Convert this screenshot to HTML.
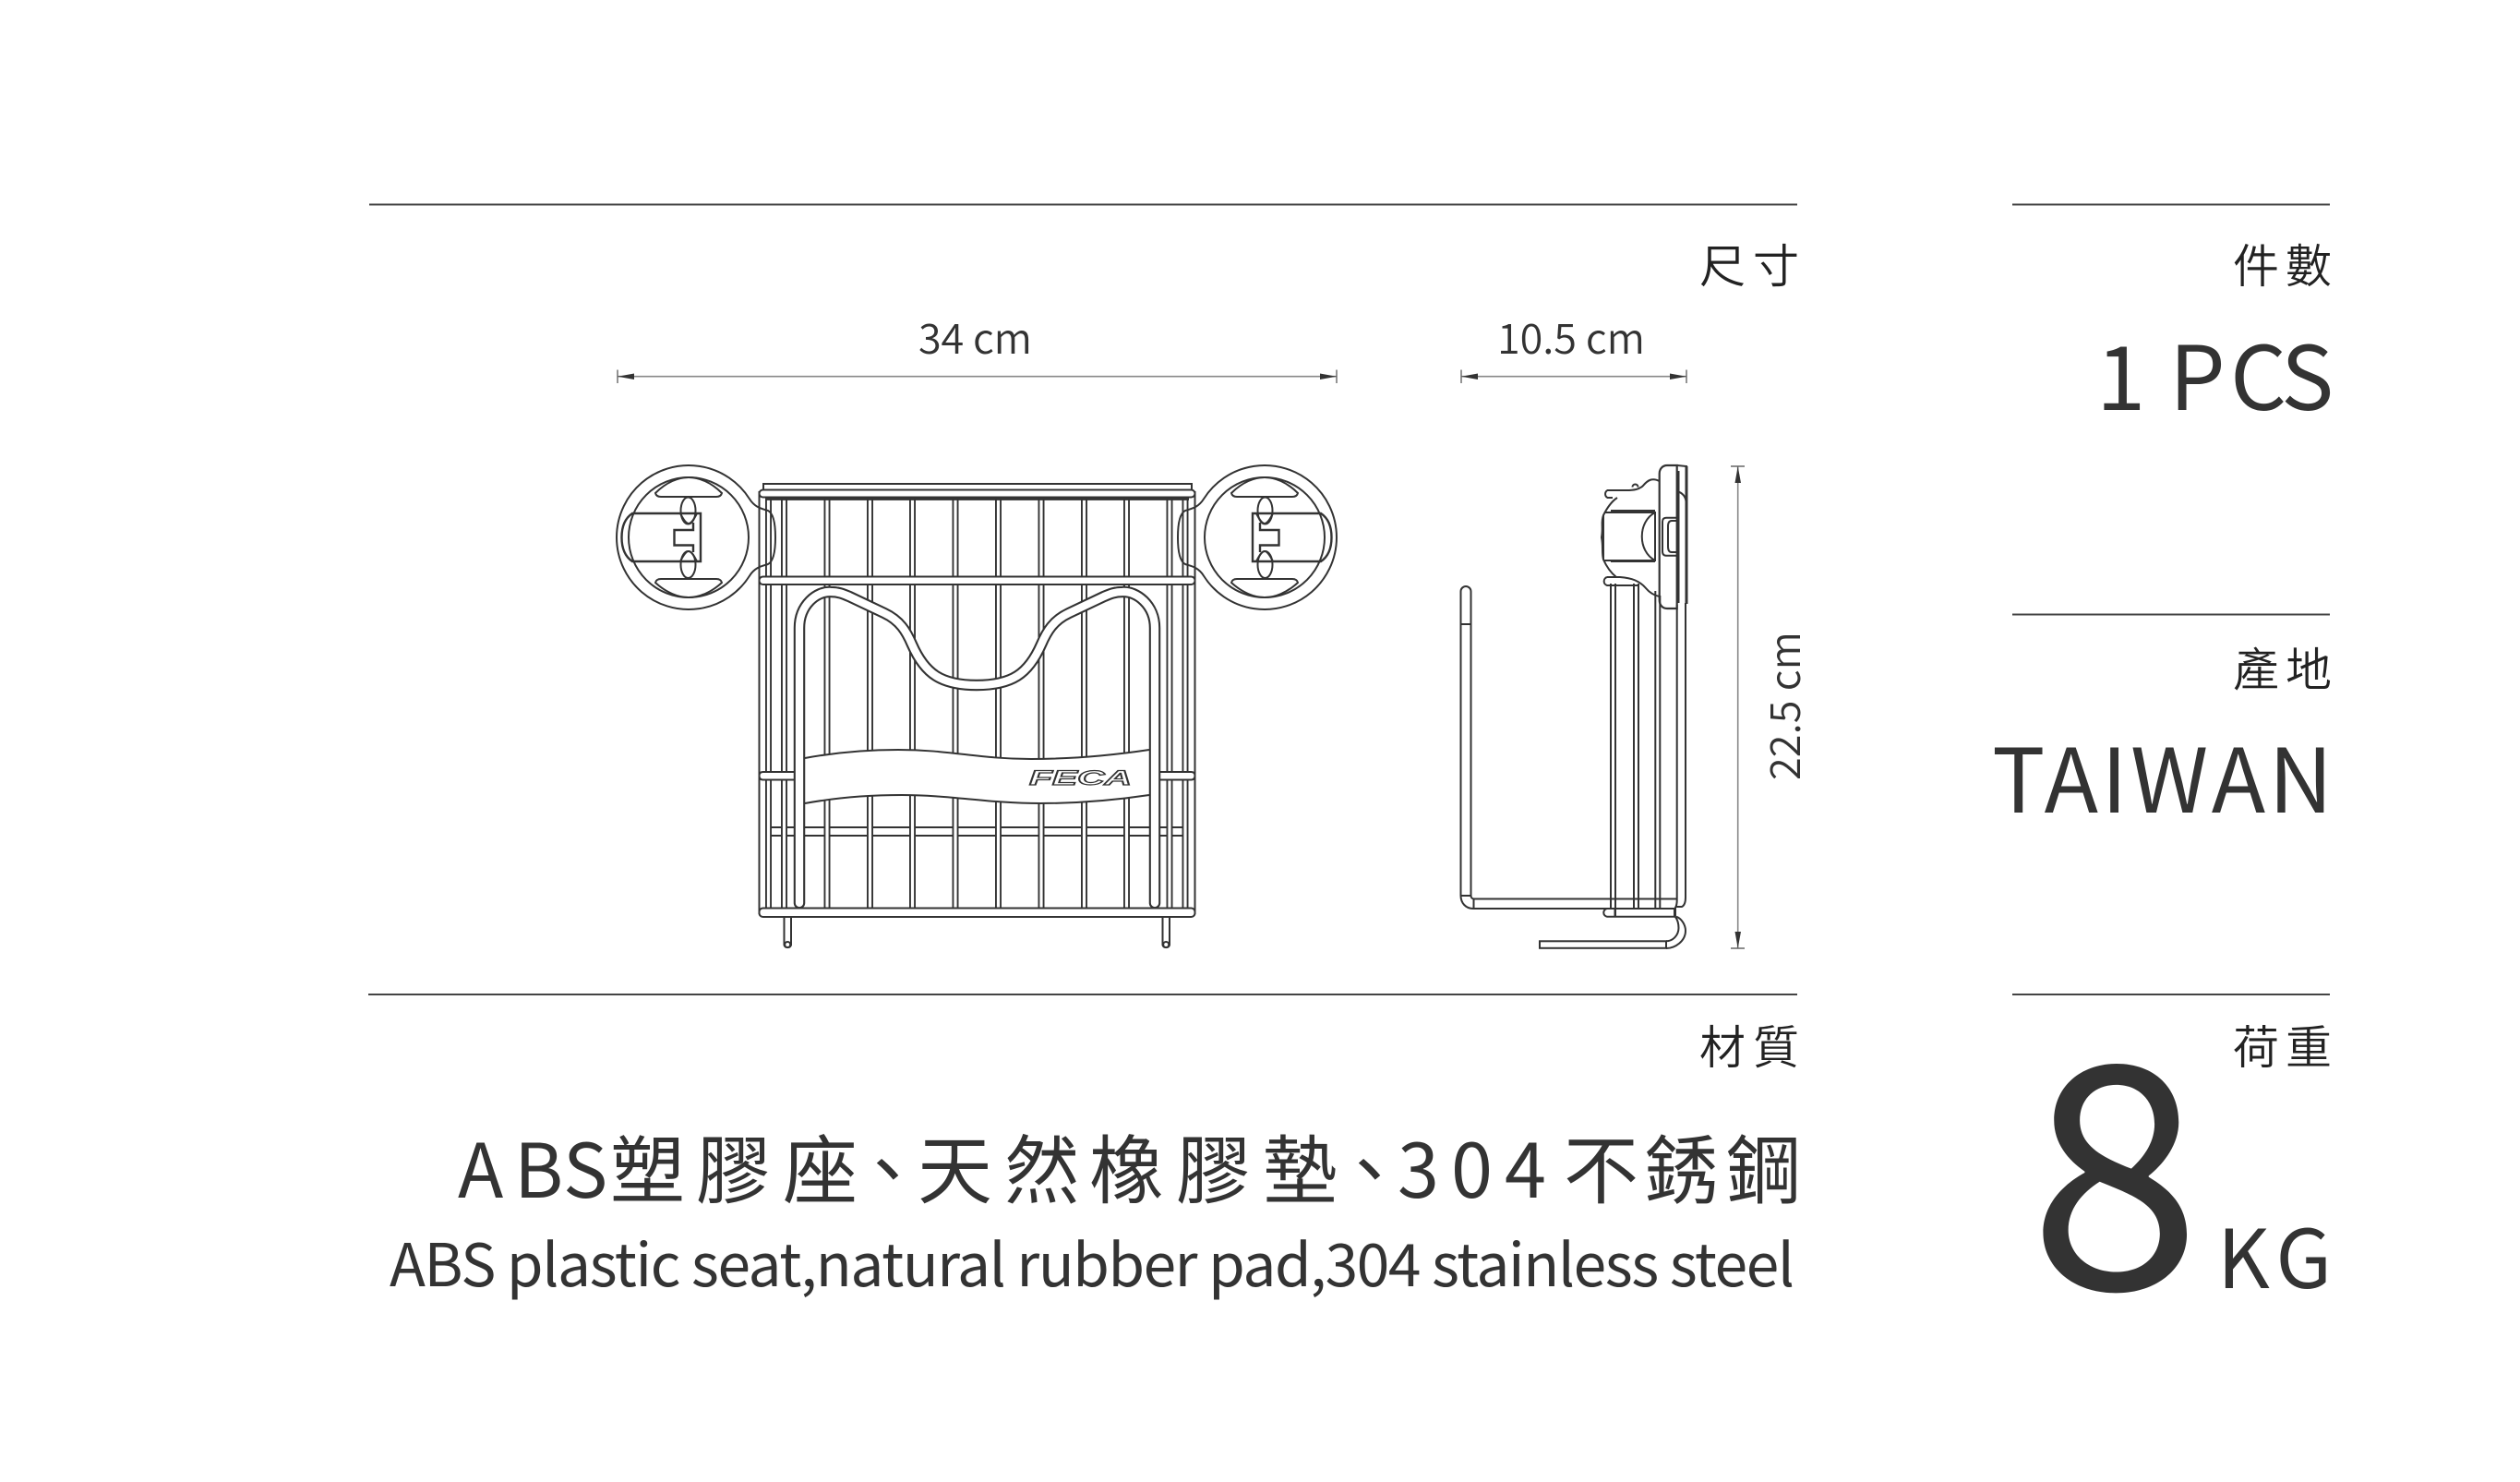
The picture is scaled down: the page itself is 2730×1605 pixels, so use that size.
<!DOCTYPE html>
<html><head><meta charset="utf-8"><style>
html,body{margin:0;padding:0;background:#fff}
svg{display:block}
text{font-family:"Noto Sans CJK TC","Liberation Sans",sans-serif;fill:#333}
.l{font-weight:350;fill:#222}
.m{font-weight:350}
.r{font-weight:400}
</style></head><body>
<svg width="2730" height="1605" viewBox="0 0 2730 1605" xmlns="http://www.w3.org/2000/svg">
<rect width="2730" height="1605" fill="#fff"/>
<g stroke="#444" stroke-width="2" fill="none">
<path d="M400 221.500H1947M399 1077H1947M2180 221.500H2524M2180 665.500H2524M2180 1077H2524"/>
</g>
<text class="l" x="1841" y="306" font-size="50" textLength="108">尺寸</text>
<text class="l" x="2419" y="306" font-size="50" textLength="107">件數</text>
<text class="l" x="2419" y="743" font-size="50" textLength="107">產地</text>
<text class="l" x="2419" y="1152" font-size="50" textLength="107">荷重</text>
<text class="l" x="1841" y="1152" font-size="50" textLength="108">材質</text>
<text class="m" x="995" y="383" font-size="45" textLength="123">34 cm</text>
<text class="m" x="1622" y="383" font-size="45" textLength="160">10.5 cm</text>
<text class="m" transform="translate(1950 845) rotate(-90)" x="0" y="0" font-size="45" textLength="161">22.5 cm</text>
<text class="r" x="496 557 610 661 754 848 921 994 1088 1180 1274 1368 1443 1514 1572 1630 1694 1781 1870" y="1297" font-size="81">ABS塑膠座、天然橡膠墊、304不銹鋼</text>
<text class="r" x="422" y="1393" font-size="64" textLength="1522">ABS plastic seat,natural rubber pad,304 stainless steel</text>
<text class="r" x="2271 2330 2350 2416 2471" y="444" font-size="96">1 PCS</text>
<text class="r" x="2158" y="880" font-size="96" textLength="369">TAIWAN</text>
<text class="r" x="2198" y="1396" font-size="336">8</text>
<text class="r" x="2402" y="1395" font-size="88" textLength="124">KG</text>

<!-- dimensions -->
<g stroke="#888" stroke-width="1.600" fill="none">
<path d="M669 407.700H1448M1583 407.700H1827M1882.700 505V1027"/>
</g>
<g stroke="#666" stroke-width="1.400" fill="none">
<path d="M669 400.500V415M1448 400.500V415M1583 400.500V415M1827 400.500V415M1875 505H1890M1875 1027H1890"/>
</g>
<g fill="#333">
<path d="M669 407.700L687 404.500V411Z M1448 407.700L1430 404.500V411Z M1583 407.700L1601 404.500V411Z M1827 407.700L1809 404.500V411Z M1882.700 505L1879.500 523H1886Z M1882.700 1027L1879.500 1009H1886Z"/>
</g>

<!-- FRONT VIEW -->
<g fill="none" stroke="#333" stroke-width="2">
<path d="M822.500 532V990M1294.500 532V990"/>
<path d="M834 896H1282M834 905H1282"/>
</g>
<g fill="none">
<path stroke="#333" stroke-width="7" d="M832.500 538V984M849.500 538V984M896 538V984M942.500 538V984M988.500 538V984M1035 538V984M1081.500 538V984M1128 538V984M1174.500 538V984M1220.500 538V984M1267 538V984M1284 538V984"/>
<path stroke="#fff" stroke-width="3.200" d="M832.500 538V984M849.500 538V984M896 538V984M942.500 538V984M988.500 538V984M1035 538V984M1081.500 538V984M1128 538V984M1174.500 538V984M1220.500 538V984M1267 538V984M1284 538V984"/>
<path stroke="#333" stroke-width="2.800" d="M829 540.500H1288"/>
</g>
<g fill="#fff" stroke="#333" stroke-width="2">
<rect x="827" y="524" width="464" height="7"/>
<rect x="822.500" y="530.500" width="472" height="8" rx="4"/>
<rect x="822.500" y="624.500" width="472" height="8.500" rx="4"/>
<rect x="822.500" y="983.500" width="472" height="9.500" rx="4"/>
<path d="M862 836H826.500Q822.500 836 822.500 840Q822.500 844.500 826.500 844.500H862Z"/>
<path d="M1255 836H1290.500Q1294.500 836 1294.500 840Q1294.500 844.500 1290.500 844.500H1255Z"/>
<path d="M849.500 993V1023.500A4 4 0 0 0 857 1023.500V993Z"/>
<path d="M1259.500 993V1023.500A4 4 0 0 0 1267 1023.500V993Z"/>
<circle cx="853.200" cy="1023" r="3" />
<circle cx="1263.200" cy="1023" r="3" />
</g>
<path fill="#fff" d="M872 821C905 815 940 812 973 812C1030 812 1060 822 1117 822C1165 822 1205 818 1245 812V861C1205 867 1165 870 1127 870C1070 870 1030 861 977 861C940 861 905 864 872 870Z"/>
<path fill="none" stroke="#333" stroke-width="2" d="M872 821C905 815 940 812 973 812C1030 812 1060 822 1117 822C1165 822 1205 818 1245 812M1245 861C1205 867 1165 870 1127 870C1070 870 1030 861 977 861C940 861 905 864 872 870"/>
<g fill="none" stroke-linecap="round">
<path stroke="#333" stroke-width="12.500" d="M866 978V680C866 655 885 640 900 641C908 641 913 643 920 646L958 664C975 672 982 684 988 698C1002 730 1020 742 1058 742C1096 742 1114 730 1128 698C1134 684 1141 672 1158 664L1196 646C1203 643 1208 641 1216 641C1231 640 1251 655 1251 680V978"/>
<path stroke="#fff" stroke-width="8.300" d="M866 978V680C866 655 885 640 900 641C908 641 913 643 920 646L958 664C975 672 982 684 988 698C1002 730 1020 742 1058 742C1096 742 1114 730 1128 698C1134 684 1141 672 1158 664L1196 646C1203 643 1208 641 1216 641C1231 640 1251 655 1251 680V978"/>
</g>
<text x="1115" y="850" font-size="22" textLength="111" lengthAdjust="spacingAndGlyphs" style="font-family:'Liberation Sans',sans-serif;font-weight:700;font-style:italic;fill:#fff;stroke:#333;stroke-width:1.200">FECA</text>

<!-- left suction -->
<g fill="none" stroke="#333" stroke-width="2">
<path d="M812 540.400A78 78 0 1 0 812 623.600C818 614 826 613 832 611C838 608 840 596 840 582C840 568 838 556 832 553C826 551 818 550 812 540.400Z"/>
<circle cx="746" cy="582" r="65"/>
<path d="M716 538H776Q781 538 782 534C770 522 757 517 746 517C735 517 722 522 710 534Q711 538 716 538Z"/>
<path d="M716 627H776Q781 627 782 631C770 642 757 647 746 647C735 647 722 642 710 631Q711 627 716 627Z"/>
<ellipse cx="745.500" cy="553" rx="8" ry="14.500"/>
<ellipse cx="745.500" cy="611.500" rx="8" ry="14.500"/>
<path d="M737 556C740 562 743 567 746 567C749 567 752 562 755 556M737 608C740 602 743 597 746 597C749 597 752 602 755 608"/>
<path stroke-width="2.400" d="M759 556H685C676 562 673.500 572 673.500 582C673.500 592 676 602 685 608H759ZM751 566V574H730.500V590.500H751V598"/>
</g>
<!-- right suction mirrored -->
<g transform="matrix(-1 0 0 1 2116 0)" fill="none" stroke="#333" stroke-width="2">
<path d="M812 540.400A78 78 0 1 0 812 623.600C818 614 826 613 832 611C838 608 840 596 840 582C840 568 838 556 832 553C826 551 818 550 812 540.400Z"/>
<circle cx="746" cy="582" r="65"/>
<path d="M716 538H776Q781 538 782 534C770 522 757 517 746 517C735 517 722 522 710 534Q711 538 716 538Z"/>
<path d="M716 627H776Q781 627 782 631C770 642 757 647 746 647C735 647 722 642 710 631Q711 627 716 627Z"/>
<ellipse cx="745.500" cy="553" rx="8" ry="14.500"/>
<ellipse cx="745.500" cy="611.500" rx="8" ry="14.500"/>
<path d="M737 556C740 562 743 567 746 567C749 567 752 562 755 556M737 608C740 602 743 597 746 597C749 597 752 602 755 608"/>
<path stroke-width="2.400" d="M759 556H685C676 562 673.500 572 673.500 582C673.500 592 676 602 685 608H759ZM751 566V574H730.500V590.500H751V598"/>
</g>

<!-- SIDE VIEW -->
<g fill="none" stroke="#333" stroke-width="2">
<path d="M1582.500 970V640.500A5.500 5.500 0 0 1 1593.500 640.500V970M1582.500 676H1593.500"/>
<path d="M1582.500 970C1582.500 978 1588 984 1596 984H1745M1593.500 970C1593.500 972 1595 973.500 1597 973.500H1816M1582.500 970H1593.500M1596.500 973.500V984"/>
<path d="M1745 632V984M1750 632V992M1770 632V984M1775 632V984M1793.300 640V984M1798.300 645V984M1816.700 655V975Q1816.700 980 1815 983M1826 653V972Q1826 980 1822 982H1816"/>
<path d="M1750 984H1816"/>
<path d="M1741 984H1814V992.700H1741A4.400 4.400 0 0 1 1741 984ZM1749.500 984V992.700"/>
<path d="M1816 992.700C1822 995 1826 1002 1826 1008C1826 1019 1815 1027 1805 1027M1815 993C1818 997 1818.500 1001 1818.500 1005C1818.500 1013 1812 1019.300 1805 1019.300"/>
<path d="M1815 982.500V992.700"/>
<rect x="1668" y="1019.300" width="137" height="7.500"/>
<path d="M1805 1019.300V1027"/>
<path d="M1806 504H1816.700V659H1806C1801 659 1797.700 655 1797.700 650V513C1797.700 508 1801 504 1806 504Z" stroke-width="2.200"/>
<path d="M1817 504L1827 505V512"/>
<path d="M1817 532C1823 534 1826 538 1826.500 543"/>
<path d="M1817 560.700H1805Q1801 560.700 1801 565V597Q1801 601.700 1805 601.700H1817M1817 564H1811Q1807 564 1807 570V592Q1807 598 1811 598H1817"/>
<path d="M1797.700 521C1790 517 1785 520 1780 526C1776 530 1770 531 1762 531H1741.500A4.500 4.500 0 0 0 1741.500 539H1747"/>
<path d="M1768.500 527.500A3 3 0 1 1 1774.500 527.500"/>
<path d="M1752 539C1746 543 1741 550 1737 558L1737 606C1741 615 1746 621 1751 625"/>
<path d="M1737 558C1734 566 1737 570 1735 582C1737 592 1735 598 1737 606"/>
<path d="M1738 555H1793V607H1738"/>
<path d="M1793 555C1774 565 1774 597 1793 607"/>
<path d="M1741 625H1755C1768 626 1776 629 1783 637C1788 643 1793 645 1797.700 646M1741 625A4.700 4.700 0 0 0 1741 634H1775"/>
</g>
<g fill="none" stroke="#333" stroke-width="3">
<path d="M1818 510V653M1827 505V654"/>
<path d="M1745 553H1793M1745 608H1793" stroke-width="2"/>
</g>
</svg>
</body></html>
